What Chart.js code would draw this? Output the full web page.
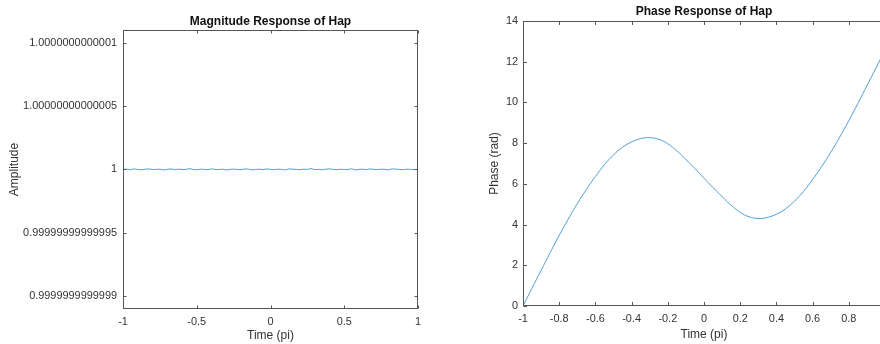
<!DOCTYPE html>
<html><head><meta charset="utf-8">
<script src="https://cdn.jsdelivr.net/npm/chart.js@4.4.0/dist/chart.umd.min.js"></script>
<style>
html,body{margin:0;padding:0;background:#fff;width:880px;height:344px;overflow:hidden;}
#wrap{position:relative;width:880px;height:344px;overflow:hidden;background:#fff;}
#c1{position:absolute;left:0;top:0;}
#c2{position:absolute;left:440px;top:0;}
</style></head><body>
<div id="wrap"><canvas id="c1" width="440" height="344"></canvas><canvas id="c2" width="480" height="344"></canvas></div>
<script>
// ---- data ----
const magFreq = [-1,-0.975,-0.95,-0.925,-0.9,-0.875,-0.85,-0.825,-0.8,-0.775,-0.75,-0.725,-0.7,-0.675,-0.65,-0.625,-0.6,-0.575,-0.55,-0.525,-0.5,-0.475,-0.45,-0.425,-0.4,-0.375,-0.35,-0.325,-0.3,-0.275,-0.25,-0.225,-0.2,-0.175,-0.15,-0.125,-0.1,-0.075,-0.05,-0.025,0,0.025,0.05,0.075,0.1,0.125,0.15,0.175,0.2,0.225,0.25,0.275,0.3,0.325,0.35,0.375,0.4,0.425,0.45,0.475,0.5,0.525,0.55,0.575,0.6,0.625,0.65,0.675,0.7,0.725,0.75,0.775,0.8,0.825,0.85,0.875,0.9,0.925,0.95,0.975,1];
const magValues = [
1, 1.0000000000000002, 0.9999999999999998, 1.0000000000000004, 1, 0.9999999999999997, 1.0000000000000002, 1.0000000000000004, 0.9999999999999999, 1,
1.0000000000000002, 0.9999999999999996, 1, 1.0000000000000004, 0.9999999999999998, 1.0000000000000002, 1, 0.9999999999999999, 1.0000000000000007, 1,
0.9999999999999997, 1.0000000000000002, 1, 0.9999999999999998, 1.0000000000000004, 1, 0.9999999999999999, 1.0000000000000002, 0.9999999999999996, 1,
1.0000000000000002, 1, 0.9999999999999998, 1.0000000000000004, 1.0000000000000002, 0.9999999999999997, 1, 1.0000000000000002, 0.9999999999999999, 1.0000000000000004,
1, 0.9999999999999998, 1.0000000000000002, 1, 0.9999999999999996, 1.0000000000000004, 1.0000000000000002, 1, 0.9999999999999998, 1.0000000000000002,
1, 1.0000000000000007, 0.9999999999999999, 1, 0.9999999999999997, 1.0000000000000002, 1.0000000000000004, 1, 0.9999999999999998, 1.0000000000000002,
0.9999999999999999, 1, 1.0000000000000004, 0.9999999999999996, 1, 1.0000000000000002, 0.9999999999999998, 1.0000000000000004, 1, 0.9999999999999999,
1.0000000000000002, 1, 0.9999999999999997, 1.0000000000000004, 1.0000000000000002, 1, 0.9999999999999998, 1.0000000000000002, 1, 0.9999999999999999, 1
];
const magTickValues = [0.9999999999999, 0.99999999999995, 1, 1.00000000000005, 1.0000000000001];
const magTickLabels = ['0.9999999999999', '0.99999999999995', '1', '1.00000000000005', '1.0000000000001'];
const magYMin = 0.99999999999989;
const magYMax = 1.00000000000011;

const phaseFreq = [-1,-0.95,-0.9,-0.85,-0.8,-0.75,-0.7,-0.65,-0.6,-0.55,-0.5,-0.45,-0.4,-0.35,-0.3,-0.25,-0.2,-0.15,-0.1,-0.05,0,0.05,0.1,0.15,0.2,0.25,0.3,0.35,0.4,0.45,0.5,0.55,0.6,0.65,0.7,0.75,0.8,0.85,0.9,0.95,1];
const phaseValues = [0.00,0.88,1.75,2.62,3.47,4.27,5.03,5.72,6.36,6.94,7.42,7.80,8.06,8.22,8.27,8.19,7.97,7.62,7.20,6.75,6.28,5.82,5.37,4.95,4.60,4.38,4.30,4.35,4.51,4.77,5.15,5.63,6.21,6.85,7.54,8.30,9.10,9.95,10.82,11.69,12.57];

// ---- style ----
const FONT = "'Liberation Sans', Arial, Helvetica, sans-serif";
Chart.defaults.font.family = FONT;
Chart.defaults.color = '#333';
const LINE = '#4f9fd6';
const AXIS = '#555';
const PAGE_W = 880;

const boxPlugin = {
  id: 'matlabBox',
  afterDatasetsDraw(chart, args, opts) {
    const {ctx, chartArea: a, scales: {x, y}} = chart;
    ctx.save();
    ctx.strokeStyle = AXIS; ctx.lineWidth = 1;
    const L = Math.round(a.left) + 0.5, R = Math.round(a.right) - 0.5,
          T = Math.round(a.top) + 0.5, B = Math.round(a.bottom) - 0.5;
    ctx.strokeRect(L, T, R - L, B - T);
    const tl = opts.tickLen;
    ctx.beginPath();
    x.ticks.forEach(t => { const p = Math.round(x.getPixelForValue(t.value)) + 0.5;
      ctx.moveTo(p, B); ctx.lineTo(p, B - tl); ctx.moveTo(p, T); ctx.lineTo(p, T + tl); });
    y.ticks.forEach(t => { const p = Math.round(y.getPixelForValue(t.value)) + 0.5;
      ctx.moveTo(L, p); ctx.lineTo(L + tl, p); ctx.moveTo(R, p); ctx.lineTo(R - tl, p); });
    ctx.stroke();
    ctx.restore();
  }
};

const tickFont = {size: 10.9};
const titleFont = {size: 12};

function fmtX(offset) {
  return function (v) {
    // hide labels that fall beyond the visible page width
    if (this.getPixelForValue(v) + offset > PAGE_W - 2) return '';
    return String(Math.round(v * 100) / 100);
  };
}

function makeChart(el, cfg) {
  return new Chart(el, {
    type: 'line',
    data: {datasets: [{
      data: cfg.xs.map((x, i) => ({x: x, y: cfg.ys[i]})),
      borderColor: LINE, borderWidth: 1, pointRadius: 0, fill: false,
      tension: cfg.tension
    }]},
    options: {
      responsive: false, animation: false, devicePixelRatio: 1,
      layout: {padding: {left: 0, right: cfg.padRight, top: 0, bottom: 0}},
      plugins: {
        legend: {display: false}, tooltip: {enabled: false},
        title: {display: true, text: cfg.title, fullSize: false, color: '#111',
          font: {size: 12, weight: 'bold'}, padding: {top: cfg.titleTop, bottom: cfg.titleBottom}},
        matlabBox: {tickLen: cfg.tickLen}
      },
      scales: {
        x: {type: 'linear', min: -1, max: 1,
          ticks: {stepSize: cfg.xStep, padding: 6, font: tickFont, maxRotation: 0, autoSkip: false,
                  callback: fmtX(cfg.offset)},
          grid: {display: false, drawTicks: false}, border: {display: false},
          title: {display: true, text: 'Time (pi)', font: titleFont, padding: {top: 0, bottom: cfg.xTitleBottom}},
          afterFit: s => { s.height = cfg.xH; }
        },
        y: Object.assign({type: 'linear', min: cfg.yMin, max: cfg.yMax,
          ticks: Object.assign({padding: cfg.yPad, font: tickFont, autoSkip: false}, cfg.yTicks || {}),
          grid: {display: false, drawTicks: false}, border: {display: false},
          title: {display: true, text: cfg.yTitle, font: titleFont, padding: {top: cfg.yTitleTop, bottom: 0}},
          afterFit: s => { s.width = cfg.yW; }
        }, cfg.yExtra || {})
      }
    },
    plugins: [boxPlugin]
  });
}

makeChart(document.getElementById('c1'), {
  xs: magFreq, ys: magValues, tension: 0, offset: 0,
  title: 'Magnitude Response of Hap', titleTop: 14.5, titleBottom: 1.1,
  padRight: 22, xStep: 0.5, xH: 35, xTitleBottom: 1,
  yMin: magYMin, yMax: magYMax, yPad: 6, yW: 123, yTitle: 'Amplitude', yTitleTop: 7.5,
  tickLen: 3,
  yTicks: {callback: (v, i) => magTickLabels[i]},
  yExtra: {afterBuildTicks: s => { s.ticks = magTickValues.map(v => ({value: v})); }}
});

makeChart(document.getElementById('c2'), {
  xs: phaseFreq, ys: phaseValues, tension: 0.4, offset: 440,
  title: 'Phase Response of Hap', titleTop: 4.8, titleBottom: 1.8,
  padRight: 35, xStep: 0.2, xH: 38, xTitleBottom: 2.5,
  yMin: 0, yMax: 14, yPad: 5, yW: 83, yTitle: 'Phase (rad)', yTitleTop: 47.8,
  tickLen: 3.5,
  yTicks: {stepSize: 2}
});
</script>
</body></html>
